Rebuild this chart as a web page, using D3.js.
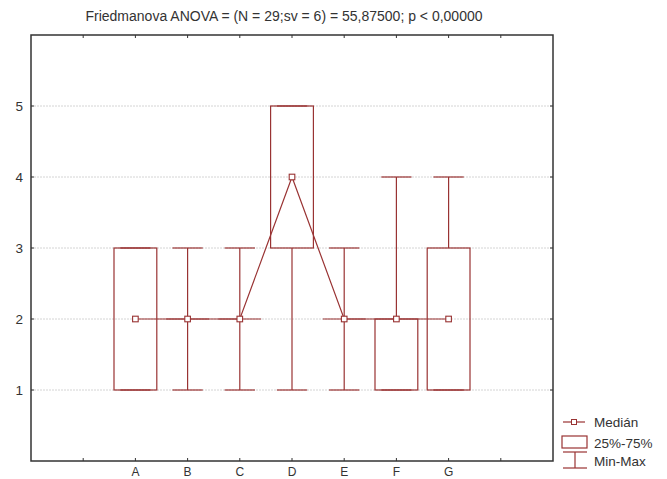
<!DOCTYPE html>
<html><head><meta charset="utf-8">
<script src="https://cdn.jsdelivr.net/npm/d3@7"></script>
<style>
html,body{margin:0;padding:0;background:#fff;}
svg{display:block;font-family:"Liberation Sans",Arial,sans-serif;}
</style></head>
<body><div id="chart"></div>
<script>
const categories = ["A","B","C","D","E","F","G"];
const medians = [2,2,2,4,2,2,2];
const q1 = [1,2,2,3,2,1,1];
const q3 = [3,2,2,5,2,2,3];
const mins = [1,1,1,1,1,1,1];
const maxs = [3,3,3,5,3,4,4];
const yTicks = [1,2,3,4,5];
const xTickPositions = [1,2,3,4,5,6,7,8,9];
const title = "Friedmanova ANOVA = (N = 29;sv = 6) = 55,87500; p < 0,00000";
const legendLabels = ["Medián","25%-75%","Min-Max"];

(function(){
const W = 667, H = 479;
const mL = 31, mR = 553, mT = 35, mB = 461;
const red = "#993333", axisCol = "#333", textCol = "#333";

const svg = d3.select("#chart").append("svg").attr("width", W).attr("height", H);

const x = d3.scaleLinear().domain([0,10]).range([mL,mR]);
const y = d3.scaleLinear().domain([0,6]).range([mB,mT]);
const pos = i => x(i+2);
const boxW = x(0.82) - x(0);
const capW = x(0.58) - x(0);

// grid
svg.append("g").selectAll("line").data(yTicks).join("line")
  .attr("x1", mL).attr("x2", mR)
  .attr("y1", d => y(d)).attr("y2", d => y(d))
  .attr("stroke", "#d4d4d4").attr("stroke-width", 1).attr("stroke-dasharray", "2,1");

// whiskers and boxes
const wg = svg.append("g").attr("stroke", red).attr("stroke-width", 1.2).attr("fill", "none");
categories.forEach((c,i) => {
  const cx = pos(i);
  if (mins[i] < q1[i]) wg.append("line").attr("x1",cx).attr("x2",cx).attr("y1",y(mins[i])).attr("y2",y(q1[i]));
  if (maxs[i] > q3[i]) wg.append("line").attr("x1",cx).attr("x2",cx).attr("y1",y(q3[i])).attr("y2",y(maxs[i]));
  wg.append("line").attr("x1",cx-capW/2).attr("x2",cx+capW/2).attr("y1",y(mins[i])).attr("y2",y(mins[i]));
  wg.append("line").attr("x1",cx-capW/2).attr("x2",cx+capW/2).attr("y1",y(maxs[i])).attr("y2",y(maxs[i]));
  if (q3[i] > q1[i]) {
    wg.append("rect").attr("x",cx-boxW/2).attr("y",y(q3[i])).attr("width",boxW).attr("height",y(q1[i])-y(q3[i]));
  } else {
    wg.append("line").attr("x1",cx-boxW/2).attr("x2",cx+boxW/2).attr("y1",y(q1[i])).attr("y2",y(q1[i]));
  }
});

// median line
svg.append("path")
  .attr("d", d3.line().x((d,i)=>pos(i)).y(d=>y(d))(medians))
  .attr("fill","none").attr("stroke",red).attr("stroke-width",1.2);
svg.append("g").selectAll("rect").data(medians).join("rect")
  .attr("x",(d,i)=>pos(i)-2.8).attr("y",d=>y(d)-2.8).attr("width",5.6).attr("height",5.6)
  .attr("fill","#fff").attr("stroke",red).attr("stroke-width",1.1);

// frame
svg.append("rect").attr("x",mL).attr("y",mT).attr("width",mR-mL).attr("height",mB-mT)
  .attr("fill","none").attr("stroke",axisCol).attr("stroke-width",1.5);

// ticks
const tk = svg.append("g").attr("stroke",axisCol).attr("stroke-width",1);
xTickPositions.forEach(p => {
  tk.append("line").attr("x1",x(p)).attr("x2",x(p)).attr("y1",mT).attr("y2",mT+3);
  tk.append("line").attr("x1",x(p)).attr("x2",x(p)).attr("y1",mB).attr("y2",mB-3);
});
yTicks.forEach(v => {
  tk.append("line").attr("x1",mL).attr("x2",mL+3).attr("y1",y(v)).attr("y2",y(v));
  tk.append("line").attr("x1",mR).attr("x2",mR-3).attr("y1",y(v)).attr("y2",y(v));
});

// y labels
svg.append("g").selectAll("text").data(yTicks).join("text")
  .attr("x",23).attr("y",d=>y(d)).attr("dy","0.35em").attr("text-anchor","end")
  .attr("font-size",13.5).attr("fill",textCol).text(d=>d);

// x labels
svg.append("g").selectAll("text").data(categories).join("text")
  .attr("x",(d,i)=>pos(i)).attr("y",476).attr("text-anchor","middle")
  .attr("font-size",12).attr("fill",textCol).text(d=>d);

// title
svg.append("text").attr("x",284).attr("y",21).attr("text-anchor","middle")
  .attr("font-size",14).attr("fill",textCol).text(title);

// legend
const lg = svg.append("g");
lg.append("line").attr("x1",563).attr("x2",585).attr("y1",422).attr("y2",422).attr("stroke",red).attr("stroke-width",1.2);
lg.append("rect").attr("x",571.5).attr("y",419.5).attr("width",5).attr("height",5).attr("fill","#fff").attr("stroke",red);
lg.append("rect").attr("x",562).attr("y",436).attr("width",25).attr("height",12).attr("fill","none").attr("stroke",red).attr("stroke-width",1.2);
lg.append("line").attr("x1",575).attr("x2",575).attr("y1",452).attr("y2",468).attr("stroke",red).attr("stroke-width",1.2);
lg.append("line").attr("x1",563).attr("x2",587).attr("y1",452).attr("y2",452).attr("stroke",red).attr("stroke-width",1.2);
lg.append("line").attr("x1",563).attr("x2",587).attr("y1",468).attr("y2",468).attr("stroke",red).attr("stroke-width",1.2);
lg.selectAll("text").data(legendLabels).join("text")
  .attr("x",594).attr("y",(d,i)=>[422,443,461][i]).attr("dy","0.35em")
  .attr("font-size",13.5).attr("fill",textCol).text(d=>d);
})();
</script>
</body></html>
